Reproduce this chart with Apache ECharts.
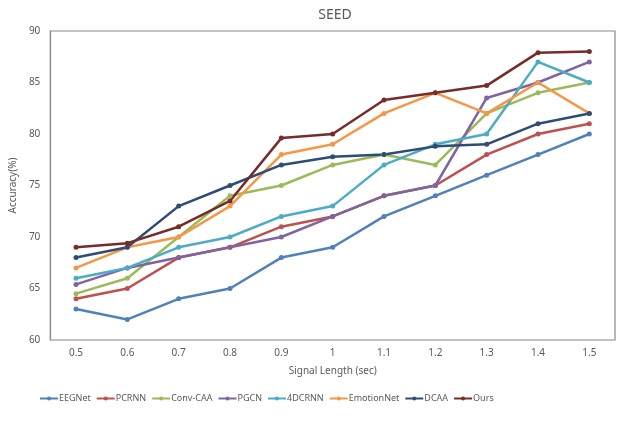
<!DOCTYPE html>
<html>
<head>
<meta charset="utf-8">
<script src="https://cdn.jsdelivr.net/npm/echarts@6/dist/echarts.min.js"></script>
<style>
html, body { margin: 0; padding: 0; background: #fff; }
#chart { width: 622px; height: 435px; }
</style>
</head>
<body>
<div id="chart"></div>
<script>
var lengths = ["0.5", "0.6", "0.7", "0.8", "0.9", "1", "1.1", "1.2", "1.3", "1.4", "1.5"];

var eegnet     = [63, 62, 64, 65, 68, 69, 72, 74, 76, 78, 80];
var pcrnn      = [64, 65, 68, 69, 71, 72, 74, 75, 78, 80, 81];
var convCaa    = [64.5, 66, 70, 74, 75, 77, 78, 77, 82, 84, 85];
var pgcn       = [65.4, 67, 68, 69, 70, 72, 74, 75, 83.5, 85, 87];
var dcrnn4     = [66, 67, 69, 70, 72, 73, 77, 79, 80, 87, 85];
var emotionNet = [67, 69, 70, 73, 78, 79, 82, 84, 82, 85, 82];
var dcaa       = [68, 69, 73, 75, 77, 77.8, 78, 78.8, 79, 81, 82];
var ours       = [69, 69.4, 71, 73.5, 79.6, 80, 83.3, 84, 84.7, 87.9, 88];

var names  = ["EEGNet", "PCRNN", "Conv-CAA", "PGCN", "4DCRNN", "EmotionNet", "DCAA", "Ours"];
var values = [eegnet, pcrnn, convCaa, pgcn, dcrnn4, emotionNet, dcaa, ours];
var colors = ["#4F81BD", "#C0504D", "#9BBB59", "#8064A2", "#4BACC6", "#F79646", "#2C4D75", "#772C2A"];

var font = "Noto Sans";
var textColor = "#595959";

var series = names.map(function (n, i) {
    return {
        name: n,
        type: "line",
        data: values[i],
        symbol: "circle",
        symbolSize: 5,
        lineStyle: { width: 2.5, color: colors[i] },
        itemStyle: { color: colors[i] }
    };
});

var chart = echarts.init(document.getElementById("chart"));
chart.setOption({
    animation: false,
    color: colors,
    title: {
        text: "SEED",
        left: 330,
        textAlign: "center",
        top: 3,
        textStyle: { fontFamily: font, fontSize: 14, fontWeight: "normal", color: textColor }
    },
    grid: {
        left: 43, right: 7, top: 31, bottom: 95,
        show: true, borderColor: "#8a8a8a", borderWidth: 1.2
    },
    legend: {
        data: names,
        left: 34,
        top: 389,
        itemWidth: 18,
        itemHeight: 5,
        itemGap: 5,
        textStyle: { fontFamily: font, fontSize: 9, color: textColor, padding: [0, 0, 0, -4] }
    },
    xAxis: {
        type: "category",
        data: lengths,
        boundaryGap: true,
        name: "Signal Length (sec)",
        nameLocation: "middle",
        nameGap: 26,
        nameTextStyle: { fontFamily: font, fontSize: 10, color: textColor },
        axisLine: { lineStyle: { color: "#BFBFBF", width: 1.2 } },
        axisTick: { alignWithLabel: true, length: 3, lineStyle: { color: "#BFBFBF" } },
        axisLabel: { fontFamily: font, fontSize: 10, color: textColor, margin: 8 },
        splitLine: { show: false }
    },
    yAxis: {
        type: "value",
        min: 60, max: 90, interval: 5,
        name: "Accuracy(%)",
        nameLocation: "middle",
        nameGap: 30,
        nameTextStyle: { fontFamily: font, fontSize: 10, color: textColor },
        axisLine: { show: true, lineStyle: { color: "#8a8a8a", width: 1.2 } },
        axisTick: { show: false },
        axisLabel: { fontFamily: font, fontSize: 10, color: textColor, margin: 10 },
        splitLine: { show: false }
    },
    series: series
});
</script>
</body>
</html>
